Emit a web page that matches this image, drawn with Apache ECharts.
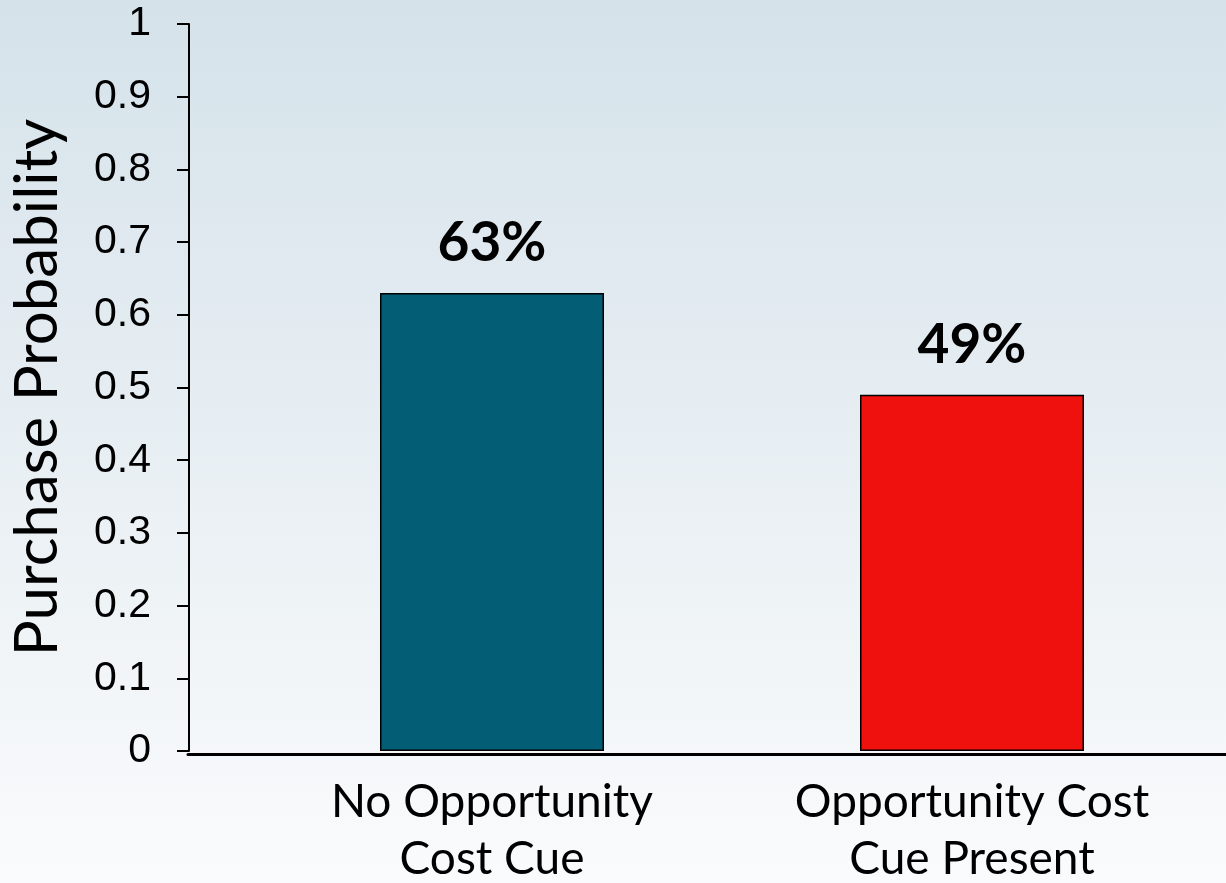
<!DOCTYPE html>
<html>
<head>
<meta charset="utf-8">
<script src="https://cdn.jsdelivr.net/npm/echarts@6/dist/echarts.min.js"></script>
<style>
  html, body { margin: 0; padding: 0; }
  #chart { width: 1226px; height: 883px; }
</style>
</head>
<body>
<div id="chart"></div>
<script>
// Purchase probability by condition
const categories = ['No Opportunity\nCost Cue', 'Opportunity Cost\nCue Present'];
const purchaseProbability = [0.63, 0.49];
const barColors = ['#025d75', '#ef110d'];
const yTickLabels = ['0', '0.1', '0.2', '0.3', '0.4', '0.5', '0.6', '0.7', '0.8', '0.9', '1'];
const yTitle = 'Purchase Probability';

const chart = echarts.init(document.getElementById('chart'), null, { renderer: 'canvas' });

const humanist = 'Lato, "Open Sans", sans-serif';
const arial = '"Liberation Sans", Arial, sans-serif';

chart.setOption({
  animation: false,
  backgroundColor: {
    type: 'linear', x: 0, y: 0, x2: 0, y2: 1,
    colorStops: [
      { offset: 0, color: '#d5e2ea' },
      { offset: 1, color: '#fafbfc' }
    ]
  },
  grid: [
    // plotting area for the bars
    { left: 252, right: 14, top: 24, bottom: 132, outerBoundsMode: 'none', containLabel: false },
    // full-width frame carrying the baseline
    { left: 188, right: 0, top: 24, bottom: 129, outerBoundsMode: 'none', containLabel: false }
  ],
  xAxis: [
    {
      type: 'category',
      gridIndex: 0,
      data: categories,
      axisLine: { show: false },
      axisTick: { show: false },
      axisLabel: {
        color: '#000',
        fontFamily: humanist,
        fontSize: 46,
        lineHeight: 57,
        margin: 23
      }
    },
    {
      type: 'category',
      gridIndex: 1,
      data: categories,
      axisLine: { show: true, lineStyle: { color: '#000', width: 3 } },
      axisTick: { show: false },
      axisLabel: { show: false }
    }
  ],
  yAxis: [
    {
      type: 'value',
      gridIndex: 0,
      min: 0,
      max: 1,
      interval: 0.1,
      offset: 63,
      name: yTitle,
      nameLocation: 'middle',
      nameGap: 121,
      nameTextStyle: {
        color: '#000',
        fontFamily: humanist,
        fontSize: 60
      },
      axisLine: { show: true, lineStyle: { color: '#000', width: 2 } },
      axisTick: { show: true, length: 12, lineStyle: { color: '#000', width: 2 } },
      splitLine: { show: false },
      axisLabel: {
        color: '#000',
        fontFamily: arial,
        fontSize: 41,
        margin: 38,
        formatter: (v, i) => yTickLabels[i]
      }
    },
    {
      type: 'value',
      gridIndex: 1,
      min: 0,
      max: 1,
      show: false
    }
  ],
  series: [
    {
      type: 'bar',
      xAxisIndex: 0,
      yAxisIndex: 0,
      barWidth: 224,
      data: purchaseProbability.map((v, i) => ({
        value: v,
        itemStyle: { color: barColors[i] }
      })),
      itemStyle: { borderColor: '#000', borderWidth: 1.5 },
      label: {
        show: true,
        position: 'top',
        distance: 22,
        color: '#000',
        fontFamily: humanist,
        fontWeight: 'bold',
        fontSize: 55,
        formatter: p => Math.round(p.value * 100) + '%'
      }
    }
  ]
});
</script>
</body>
</html>
